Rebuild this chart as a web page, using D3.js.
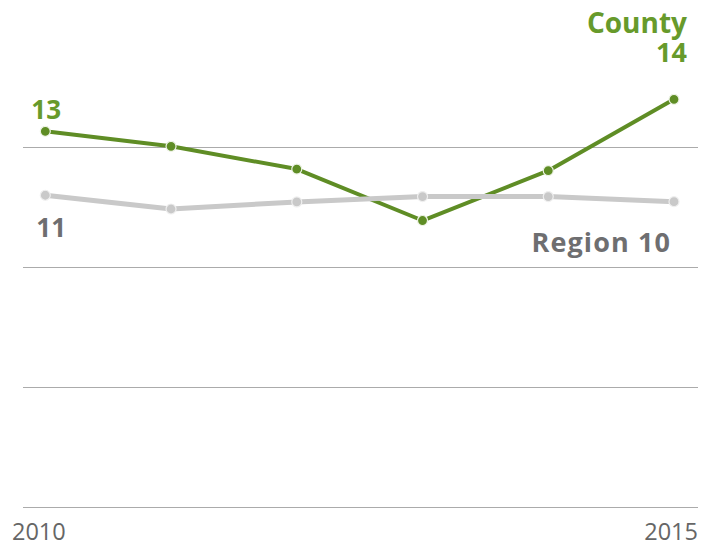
<!DOCTYPE html>
<html>
<head>
<meta charset="utf-8">
<script src="https://cdn.jsdelivr.net/npm/d3@7"></script>
<style>
  html, body { margin: 0; padding: 0; background: #ffffff; }
  svg { display: block; }
  text { font-family: "Open Sans", "Noto Sans", sans-serif; }
</style>
</head>
<body>
<div id="chart"></div>
<script>
// Years on the x axis
const years = [2010, 2011, 2012, 2013, 2014, 2015];
// County series values
const countyValues = [13, 12.53, 11.82, 10.21, 11.77, 14];
// Region 10 series values
const regionValues = [11, 10.57, 10.79, 10.96, 10.96, 10.80];
// Horizontal reference lines
const gridValues = [1.25, 5, 8.75, 12.5];
// Axis labels shown under the first and last year
const tickLabels = ["2010", "2015"];

const W = 715, H = 547;
const green = "#5f8d25";
const greenText = "#679a2b";
const grayLine = "#c9c9c9";
const grayText = "#6e6e70";

const svg = d3.select("#chart").append("svg")
  .attr("width", W).attr("height", H);

const x = d3.scalePoint().domain(years).range([45.3, 674]);
const y = d3.scaleLinear().domain([1.25, 12.5]).range([507, 147.3]);

// Grid lines
svg.append("g").selectAll("line")
  .data(gridValues)
  .join("line")
  .attr("x1", 23).attr("x2", 698)
  .attr("y1", d => Math.round(y(d)) + 0.5)
  .attr("y2", d => Math.round(y(d)) + 0.5)
  .attr("stroke", "#ababab")
  .attr("stroke-width", 1);

const line = d3.line().x(d => x(d.year)).y(d => y(d.v));

const county = years.map((yr, i) => ({ year: yr, v: countyValues[i] }));
const region = years.map((yr, i) => ({ year: yr, v: regionValues[i] }));

function drawSeries(data, color, width, dotFill, dotStroke) {
  const g = svg.append("g");
  g.append("path")
    .datum(data)
    .attr("d", line)
    .attr("fill", "none")
    .attr("stroke", color)
    .attr("stroke-width", width)
    .attr("stroke-linejoin", "round");
  g.selectAll("circle")
    .data(data)
    .join("circle")
    .attr("cx", d => x(d.year))
    .attr("cy", d => y(d.v))
    .attr("r", 5)
    .attr("fill", dotFill)
    .attr("stroke", dotStroke)
    .attr("stroke-width", 1.2);
}

drawSeries(county, green, 4, green, "#eef3e6");
drawSeries(region, grayLine, 5, grayLine, "#efefef");

// Value and series labels
const first = years[0], last = years[years.length - 1];

svg.append("text")
  .attr("x", x(first) - 14).attr("y", y(countyValues[0]) - 12)
  .attr("font-size", 26).attr("font-weight", 700)
  .attr("fill", greenText)
  .text(d3.format("d")(countyValues[0]));

svg.append("text")
  .attr("x", x(first) - 9).attr("y", y(regionValues[0]) + 42)
  .attr("font-size", 26).attr("font-weight", 700)
  .attr("fill", grayText)
  .text(d3.format("d")(regionValues[0]));

// Series name with its last value on a second line
const countyLabel = svg.append("text")
  .attr("text-anchor", "end")
  .attr("font-weight", 700)
  .attr("fill", greenText);
countyLabel.append("tspan")
  .attr("x", x(last) + 13).attr("y", 33)
  .attr("font-size", 28)
  .text("County");
countyLabel.append("tspan")
  .attr("x", x(last) + 13).attr("dy", 29)
  .attr("font-size", 27)
  .text(d3.format("d")(countyValues[countyValues.length - 1]));

svg.append("text")
  .attr("x", x(last) - 3).attr("y", 252)
  .attr("text-anchor", "end")
  .attr("font-size", 27).attr("font-weight", 700)
  .attr("letter-spacing", 1.1)
  .attr("fill", grayText)
  .text("Region 10");

// Year labels
svg.append("text")
  .attr("x", 12).attr("y", 540)
  .attr("font-size", 23.5)
  .attr("fill", "#666666")
  .text(tickLabels[0]);

svg.append("text")
  .attr("x", 698).attr("y", 540)
  .attr("text-anchor", "end")
  .attr("font-size", 23.5)
  .attr("fill", "#666666")
  .text(tickLabels[1]);
</script>
</body>
</html>
